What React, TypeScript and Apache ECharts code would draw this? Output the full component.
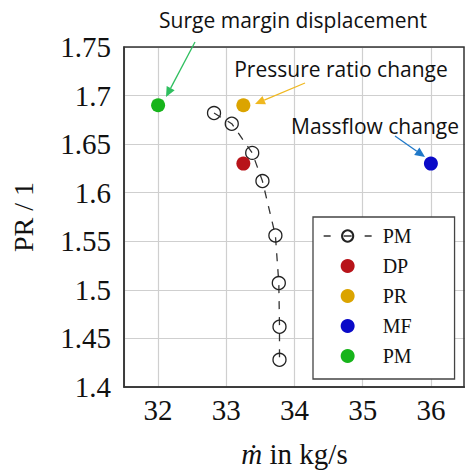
import React, { useEffect, useRef } from "react";
import * as echarts from "echarts";

const pmMassflow = [32.82, 33.08, 33.38, 33.53, 33.72, 33.77, 33.78, 33.78];
const pmRatio = [1.682, 1.671, 1.641, 1.612, 1.556, 1.507, 1.462, 1.428];
const dpPoint = [33.25, 1.63];
const prPoint = [33.25, 1.69];
const mfPoint = [36.0, 1.63];
const smPoint = [32.0, 1.69];
const legendNames = ["PM", "DP", "PR", "MF", "PM "];
const annotations = ["Surge margin displacement", "Pressure ratio change", "Massflow change"];

const SERIF = "'Liberation Serif', 'DejaVu Serif', serif";
const SANS = "'Open Sans', 'Liberation Sans', sans-serif";

function arrow(x1: number, y1: number, x2: number, y2: number, color: string) {
  const dx = x2 - x1;
  const dy = y2 - y1;
  const len = Math.sqrt(dx * dx + dy * dy);
  const ux = dx / len;
  const uy = dy / len;
  const hl = 10;
  const hw = 4.5;
  const bx = x2 - ux * hl;
  const by = y2 - uy * hl;
  return [
    {
      type: "line",
      shape: { x1, y1, x2: bx, y2: by },
      style: { stroke: color, lineWidth: 1.3 },
      z: 100,
    },
    {
      type: "polygon",
      shape: {
        points: [
          [x2, y2],
          [bx - uy * hw, by + ux * hw],
          [bx + uy * hw, by - ux * hw],
        ],
      },
      style: { fill: color },
      z: 100,
    },
  ];
}

export default function App() {
  const ref = useRef<HTMLDivElement>(null);
  useEffect(() => {
    if (!ref.current) return;
    const chart = echarts.init(ref.current, null, { renderer: "svg" });
    const pmData = pmMassflow.map((x, i) => [x, pmRatio[i]]);
    const dotSize = 14;
    chart.setOption({
      animation: false,
      backgroundColor: "#fff",
      grid: {
        left: 124,
        right: 0,
        top: 47,
        bottom: 83,
        show: false,
        containLabel: false,
        outerBoundsMode: "none",
      },
      xAxis: {
        type: "value",
        min: 31.5,
        max: 36.5,
        minInterval: 1,
        maxInterval: 1,
        name: "{i|ṁ} in kg/s",
        nameLocation: "middle",
        nameGap: 52,
        nameTextStyle: {
          fontFamily: SERIF,
          fontSize: 29,
          color: "#111",
          rich: { i: { fontFamily: SERIF, fontStyle: "italic", fontSize: 29, color: "#111" } },
        },
        axisLine: { show: true, lineStyle: { color: "#333", width: 1.5 } },
        axisTick: { show: false },
        axisLabel: {
          fontFamily: SERIF,
          fontSize: 29,
          color: "#111",
          margin: 8,
          showMinLabel: false,
          showMaxLabel: false,
        },
        splitLine: { show: true, lineStyle: { color: "#cfcfcf", width: 1.2 } },
      },
      yAxis: {
        type: "value",
        min: 1.4,
        max: 1.75,
        interval: 0.05,
        name: "PR / 1",
        nameLocation: "middle",
        nameGap: 87,
        nameTextStyle: { fontFamily: SERIF, fontSize: 28, color: "#111" },
        axisLine: { show: true, lineStyle: { color: "#333", width: 1.5 } },
        axisTick: { show: false },
        axisLabel: { fontFamily: SERIF, fontSize: 29, color: "#111", margin: 13 },
        splitLine: { show: true, lineStyle: { color: "#cfcfcf", width: 1.2 } },
      },
      legend: {
        orient: "vertical",
        left: 313,
        top: 217,
        data: legendNames,
        formatter: (n: string) => n.trim(),
        backgroundColor: "#fff",
        borderColor: "#444",
        borderWidth: 1.3,
        borderRadius: 0,
        padding: [9, 43, 13, 10],
        itemWidth: 48,
        itemHeight: 14,
        itemGap: 10,
        lineStyle: { type: [7, 13, 8, 13, 7, 100], width: 1.3 },
        textStyle: { fontFamily: SERIF, fontSize: 20, color: "#111", padding: [0, 0, 0, 6] },
        z: 50,
      },
      graphic: [
        {
          type: "rect",
          shape: { x: 124, y: 47, width: 340, height: 340 },
          style: { fill: "none", stroke: "#333", lineWidth: 1.5 },
          silent: true,
          z: 40,
        },
        {
          type: "text",
          x: 293,
          y: 20,
          style: { text: annotations[0], fontFamily: SANS, fontSize: 21, fill: "#111", align: "center", verticalAlign: "middle" },
          z: 100,
        },
        {
          type: "text",
          x: 341,
          y: 69,
          style: { text: annotations[1], fontFamily: SANS, fontSize: 21, fill: "#111", align: "center", verticalAlign: "middle" },
          z: 100,
        },
        {
          type: "text",
          x: 375,
          y: 126,
          style: { text: annotations[2], fontFamily: SANS, fontSize: 21, fill: "#111", align: "center", verticalAlign: "middle" },
          z: 100,
        },
        ...arrow(195, 42, 166, 97, "#2fbf5f"),
        ...arrow(305, 83, 255, 104, "#f0b820"),
        ...arrow(395, 136, 425, 157, "#1f78c8"),
      ],
      series: [
        {
          name: legendNames[0],
          type: "line",
          data: pmData,
          symbol: "circle",
          symbolSize: 13,
          showSymbol: true,
          showAllSymbol: true,
          lineStyle: { color: "#333", width: 1.3, type: [8, 8] },
          itemStyle: { color: "rgba(255,255,255,0)", borderColor: "#222", borderWidth: 1.3 },
          z: 3,
        },
        {
          name: legendNames[1],
          type: "scatter",
          data: [dpPoint],
          symbolSize: dotSize,
          itemStyle: { color: "#b8141a", opacity: 1 },
          z: 4,
        },
        {
          name: legendNames[2],
          type: "scatter",
          data: [prPoint],
          symbolSize: dotSize,
          itemStyle: { color: "#dba400", opacity: 1 },
          z: 4,
        },
        {
          name: legendNames[3],
          type: "scatter",
          data: [mfPoint],
          symbolSize: dotSize,
          itemStyle: { color: "#0a0ac8", opacity: 1 },
          z: 4,
        },
        {
          name: legendNames[4],
          type: "scatter",
          data: [smPoint],
          symbolSize: dotSize,
          itemStyle: { color: "#17b41b", opacity: 1 },
          z: 4,
        },
      ],
    });
    return () => chart.dispose();
  }, []);
  return (
    <div
      ref={ref}
      style={{ position: "fixed", left: 0, top: 0, width: 465, height: 470 }}
    />
  );
}
